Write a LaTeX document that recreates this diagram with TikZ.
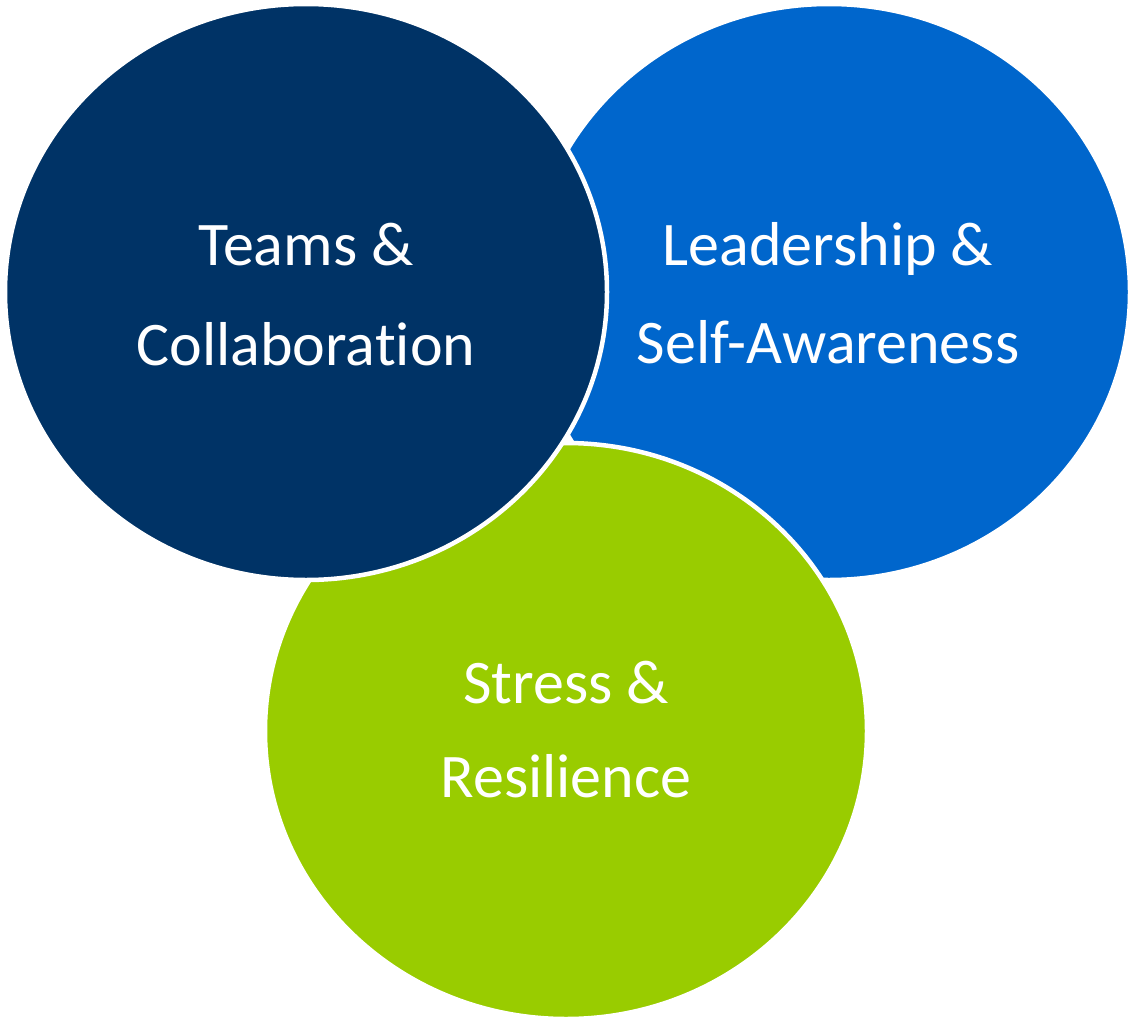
\documentclass[tikz,border=0pt]{standalone}
\usepackage{fontspec}
\setmainfont{Carlito}[Ligatures={NoCommon}]
\definecolor{navy}{RGB}{0,51,102}
\definecolor{midblue}{RGB}{0,102,204}
\definecolor{lime}{RGB}{153,204,0}
\begin{document}
\begin{tikzpicture}[x=1pt,y=-1pt,
  blob/.style={draw=white,line width=4.5pt},
  lbl/.style={text=white,align=center,font=\fontsize{62}{100}\selectfont,inner sep=0pt}]
\useasboundingbox (0,0) rectangle (1135,1025);
\fill[white] (0,0) rectangle (1135,1025);
\path[blob,fill=midblue] (829,292) ellipse [x radius=301,y radius=288];
\path[blob,fill=lime] (566,731) ellipse [x radius=301,y radius=288];
\path[blob,fill=navy] (306,292) ellipse [x radius=301,y radius=288];
\node[lbl,anchor=base] (t1) at (306,265) {Teams \&};
\node[lbl,anchor=base] (t2) at (306,365) {Collaboration};
\node[lbl,anchor=base] (l1) at (828,265) {Leadership \&};
\node[lbl,anchor=base] (l2) at (828,363) {Self-Awareness};
\node[lbl,anchor=base] (s1) at (566,703) {Stress \&};
\node[lbl,anchor=base] (s2) at (566,797) {Resilience};
\end{tikzpicture}
\end{document}
